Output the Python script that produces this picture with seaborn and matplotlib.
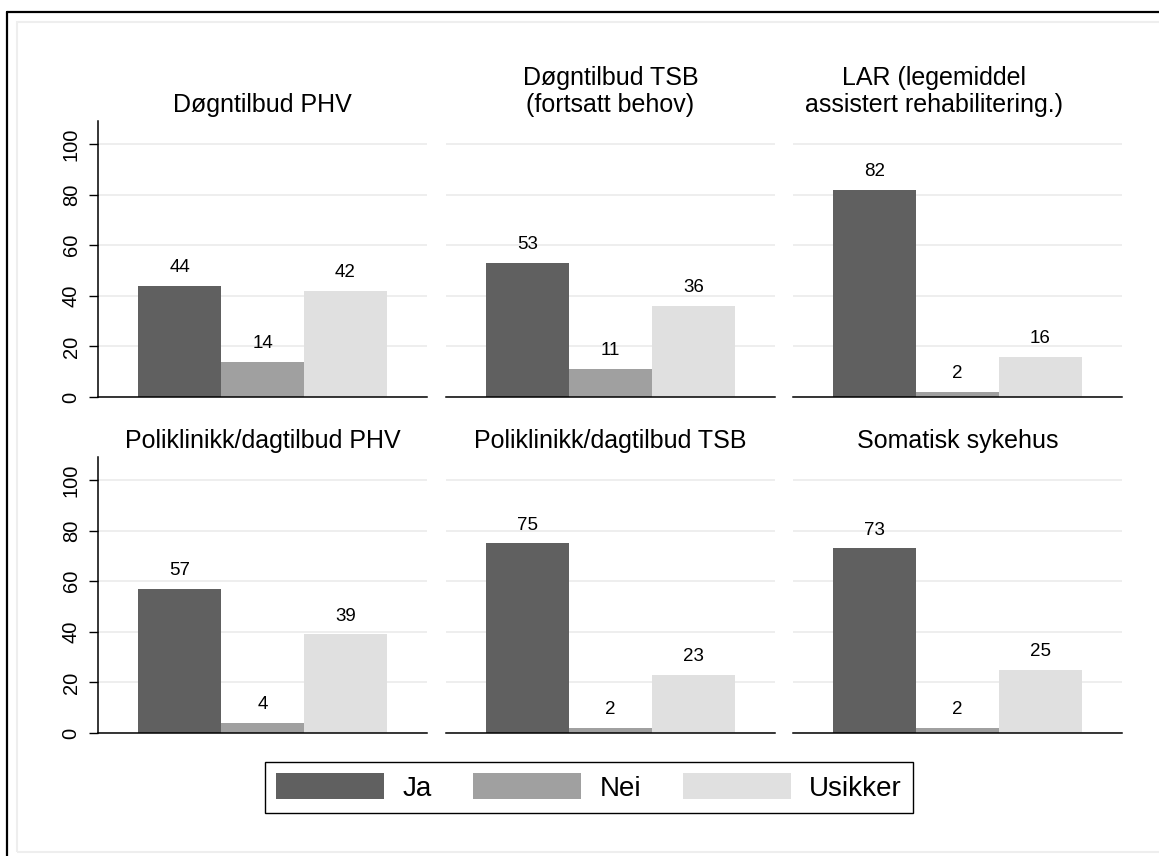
import matplotlib
matplotlib.use("Agg")
import matplotlib.pyplot as plt
from matplotlib.patches import Patch, Rectangle
from matplotlib.lines import Line2D
import pandas as pd
import seaborn as sns

# ---- data -------------------------------------------------------------
panels = [
    "Døgntilbud PHV",
    "Døgntilbud TSB\n(fortsatt behov)",
    "LAR (legemiddel\nassistert rehabilitering.)",
    "Poliklinikk/dagtilbud PHV",
    "Poliklinikk/dagtilbud TSB",
    "Somatisk sykehus",
]
svar = ["Ja", "Nei", "Usikker"]
ja = [44, 53, 82, 57, 75, 73]
nei = [14, 11, 2, 4, 2, 2]
usikker = [42, 36, 16, 39, 23, 25]
yticks = [0, 20, 40, 60, 80, 100]

colors = {"Ja": "#606060", "Nei": "#a0a0a0", "Usikker": "#e0e0e0"}

rows = []
for i, p in enumerate(panels):
    for s, vals in zip(svar, (ja, nei, usikker)):
        rows.append({"tilbud": p, "svar": s, "prosent": vals[i]})
df = pd.DataFrame(rows)

# ---- styling ------------------------------------------------------------
sns.set_theme(style="white")
plt.rcParams["font.family"] = ["Liberation Sans", "DejaVu Sans"]
plt.rcParams["text.color"] = "black"

W, H = 1159, 856
fig = plt.figure(figsize=(W / 100, H / 100), dpi=100)
fig.patch.set_facecolor("white")


def px_axes(x0, y0, x1, y1):
    return fig.add_axes([x0 / W, 1 - y1 / H, (x1 - x0) / W, (y1 - y0) / H])


cols_px = [(98, 427), (446, 775), (793, 1122)]
rows_px = [(121, 397), (457, 733)]
title_x = [0.5, 0.5, 0.4286, 0.5, 0.5, 0.5]

for i, p in enumerate(panels):
    r, c = divmod(i, 3)
    x0, x1 = cols_px[c]
    y0, y1 = rows_px[r]
    ax = px_axes(x0, y0, x1, y1)
    sub = df[df["tilbud"] == p]
    sns.barplot(
        data=sub, x="svar", y="prosent", hue="svar", order=svar,
        hue_order=svar, palette=colors, width=1, errorbar=None,
        saturation=1, legend=False, ax=ax, linewidth=0,
    )
    ax.set_xlim(-0.985, 2.985)
    ax.set_ylim(0, 109.1)
    ax.set_xticks([])
    ax.set_xlabel("")
    ax.set_ylabel("")
    ax.set_yticks(yticks)
    ax.yaxis.grid(True, color="#eaeaea", linewidth=1.1)
    ax.set_axisbelow(True)
    ax.set_facecolor("white")
    for side in ("top", "right"):
        ax.spines[side].set_visible(False)
    ax.spines["bottom"].set_color("black")
    ax.spines["bottom"].set_linewidth(1.1)
    if c == 0:
        ax.spines["left"].set_color("black")
        ax.spines["left"].set_linewidth(1.1)
        ax.tick_params(axis="y", direction="out", length=6.5, width=1.0,
                       color="black", pad=6.0, labelsize=14.5,
                       labelcolor="black", left=True)
        for lab in ax.get_yticklabels():
            lab.set_rotation(90)
            lab.set_va("center")
    else:
        ax.spines["left"].set_visible(False)
        ax.tick_params(axis="y", left=False, labelleft=False)

    for cont in ax.containers:
        ax.bar_label(cont, fmt="%g", padding=7.0, fontsize=13.5, color="black")

    ax.annotate(p, xy=(title_x[i], 1), xycoords="axes fraction",
                xytext=(0, 3), textcoords="offset points",
                ha="center", va="bottom", fontsize=18, linespacing=1.15,
                multialignment="center")

# ---- legend ---------------------------------------------------------------
fs = 20
em = fs * 100 / 72
handles = [Patch(facecolor=colors[s], edgecolor="none") for s in svar]
leg = fig.legend(
    handles, svar, loc="center", bbox_to_anchor=(589 / W, 1 - 787.5 / H),
    ncol=3, fontsize=fs, frameon=True, fancybox=False,
    handlelength=108 / em, handleheight=29 / em,
    handletextpad=18 / em, columnspacing=42 / em, borderpad=0.4,
    edgecolor="black", framealpha=1,
)
leg.get_frame().set_linewidth(1.0)

# ---- outer frames -------------------------------------------------------------
fig.add_artist(Rectangle((17 / W, 1 - 852 / H), (1175 - 17) / W, (852 - 22) / H,
                         fill=False, edgecolor="#eeeeee", linewidth=1.5,
                         transform=fig.transFigure))
fig.add_artist(Line2D([6.5 / W, 6.5 / W], [0, 1 - 11.5 / H], color="black",
                      linewidth=1.6, transform=fig.transFigure))
fig.add_artist(Line2D([6.5 / W, 1], [1 - 11.5 / H, 1 - 11.5 / H], color="black",
                      linewidth=1.6, transform=fig.transFigure))

fig.savefig("out.png", dpi=100)
